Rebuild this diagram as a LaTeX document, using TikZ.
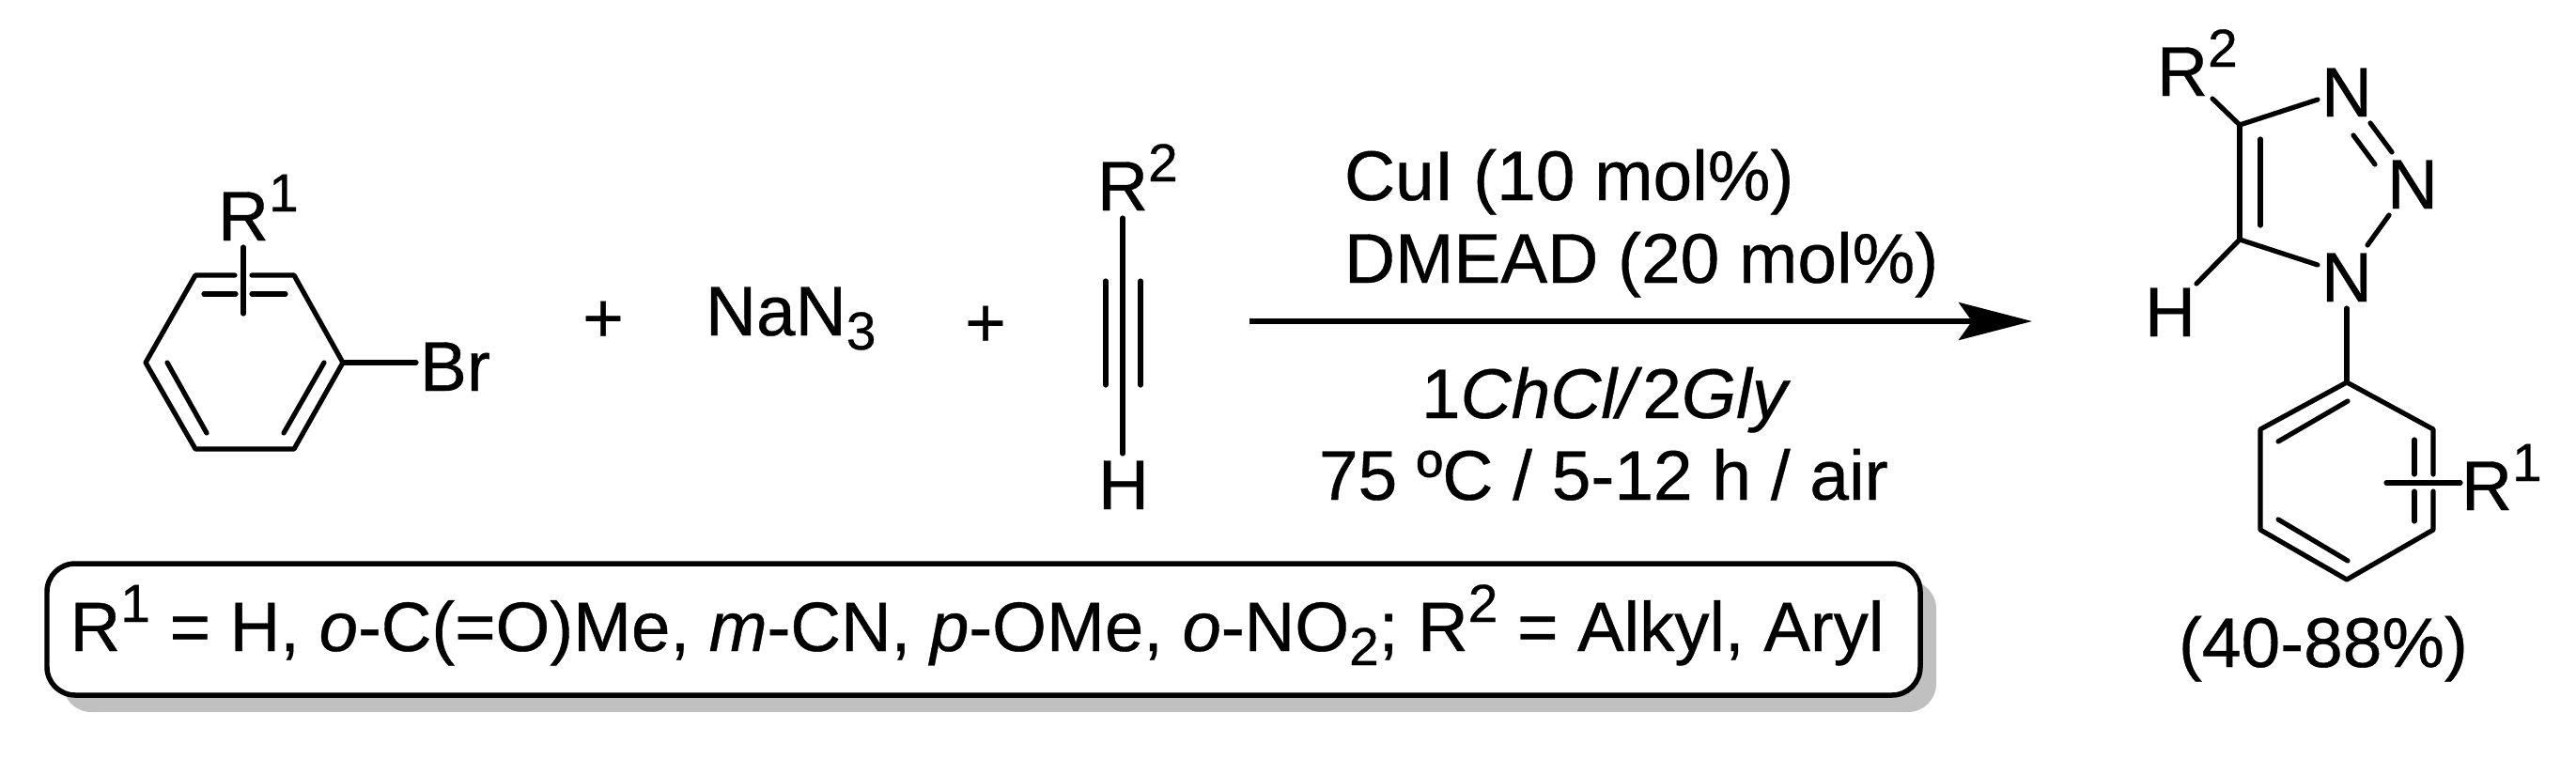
\documentclass[tikz,border=0pt]{standalone}
\usepackage{fontspec}
\usepackage{xcolor}
\setmainfont{Liberation Sans}[RawFeature={embolden=0.5}]
\usetikzlibrary{arrows.meta,shadows}
\definecolor{shadowgray}{HTML}{C0C0C0}
\newcommand{\supnum}[1]{\raisebox{.31cm}{\fontsize{16.2}{16.2}\selectfont #1}}
\newcommand{\subnum}[1]{\raisebox{-.15cm}{\fontsize{16.2}{16.2}\selectfont #1}}
\tikzset{
 bond/.style={line width=.052cm,line cap=round,line join=round},
 chem/.style={anchor=base west,inner sep=0pt,outer sep=0pt},
 plussign/.style={anchor=base,inner sep=0pt,outer sep=0pt},
 subbox/.style={draw,line width=.055cm,rounded corners=.3cm,fill=white,inner sep=0pt,
  minimum width=19.94cm,text height=.93cm,text depth=.47cm,
  font=\fontsize{21.15}{25}\selectfont,
  drop shadow={shadow xshift=.17cm,shadow yshift=-.18cm,fill=shadowgray,opacity=1}}
}
\begin{document}
\begin{tikzpicture}[font=\fontsize{21.3}{25}\selectfont]
 \useasboundingbox (0,0) rectangle (27.42,8.07);

 \coordinate (b1) at (2.08,5.14);
 \coordinate (b1e) at (2.50,5.14);
 \coordinate (b2s) at (2.68,5.14);
 \coordinate (b2) at (3.13,5.14);
 \coordinate (b3) at (3.65,4.21);
 \coordinate (b4) at (3.13,3.29);
 \coordinate (b5) at (2.08,3.29);
 \coordinate (b6) at (1.55,4.21);
 \coordinate (brend) at (4.43,4.21);
 \node[chem] (brom) at (4.47,3.91) {Br};
 \node[chem] (rone) at (2.32,5.51) {R\supnum{1}};
 \draw[bond] (b1e) -- (b1) -- (b6) -- (b5) -- (b4) -- (b3) -- (b2) -- (b2s);
 \draw[bond] (b3) -- (brend);
 \draw[bond] (2.17,4.94) -- (2.51,4.94);
 \draw[bond] (2.68,4.94) -- (3.04,4.94);
 \draw[bond] (1.78,4.21) -- (2.20,3.46);
 \draw[bond] (3.45,4.21) -- (3.02,3.46);
 \draw[bond] (2.59,5.44) -- (2.59,4.73);

 \node[plussign] (plusa) at (6.42,4.43) {+};
 \node[chem] (azide) at (7.51,4.50) {NaN\subnum{3}};
 \node[plussign] (plusb) at (10.49,4.38) {+};

 \node[chem] (rtwo) at (11.68,5.83) {R\supnum{2}};
 \node[chem] (hyd) at (11.69,2.65) {H};
 \draw[bond] (11.95,5.75) -- (11.95,3.24);
 \draw[bond] (11.77,5.08) -- (11.77,3.97);
 \draw[bond] (12.14,5.08) -- (12.14,3.97);

 \coordinate (arrs) at (13.30,4.65);
 \coordinate (arre) at (21.63,4.65);
 \draw[line width=.055cm,-{Stealth[length=.78cm,width=.40cm,inset=.14cm]}] (arrs) -- (arre);
 \node[chem] (cui) at (14.31,5.94) {CuI (10 mol\%)};
 \node[chem] (dmead) at (14.31,5.06) {DMEAD (20 mol\%)};
 \node[chem] (des) at (15.13,3.62) {1\textit{ChCl/}2\textit{Gly}};
 \node[chem] (cond) at (14.04,2.75) {75 ºC / 5-12 h / air};

 \coordinate (c4) at (23.84,6.74);
 \coordinate (c5) at (23.84,5.52);
 \coordinate (rbond) at (23.55,7.02);
 \coordinate (hbond) at (23.38,5.05);
 \coordinate (natop) at (24.67,7.01);
 \coordinate (nabot) at (24.67,5.25);
 \node[chem] (rtwob) at (22.96,7.05) {R\supnum{2}};
 \node[chem] (hydb) at (22.83,4.49) {H};
 \node[chem] (none) at (24.71,6.83) {N};
 \node[chem] (ntwo) at (25.41,5.85) {N};
 \node[chem] (nthree) at (24.71,4.86) {N};
 \draw[bond] (rbond) -- (c4) -- (natop);
 \draw[bond] (c4) -- (c5);
 \draw[bond] (hbond) -- (c5) -- (nabot);
 \draw[bond] (24.06,6.59) -- (24.06,5.67);
 \draw[bond] (25.23,6.76) -- (25.46,6.45);
 \draw[bond] (25.05,6.63) -- (25.28,6.32);
 \draw[bond] (25.43,5.78) -- (25.20,5.46);

 \coordinate (nbond) at (24.98,4.79);
 \coordinate (p1) at (24.98,4.00);
 \coordinate (p2) at (25.90,3.50);
 \coordinate (p2e) at (25.90,3.02);
 \coordinate (p3s) at (25.90,2.84);
 \coordinate (p3) at (25.90,2.43);
 \coordinate (p4) at (24.98,1.90);
 \coordinate (p5) at (24.06,2.43);
 \coordinate (p6) at (24.06,3.50);
 \draw[bond] (nbond) -- (p1);
 \draw[bond] (p2e) -- (p2) -- (p1) -- (p6) -- (p5) -- (p4) -- (p3) -- (p3s);
 \draw[bond] (24.99,3.80) -- (24.25,3.37);
 \draw[bond] (24.25,2.54) -- (24.99,2.10);
 \draw[bond] (25.70,3.39) -- (25.70,3.02);
 \draw[bond] (25.70,2.84) -- (25.70,2.52);
 \draw[bond] (25.40,2.93) -- (26.19,2.93);
 \node[chem] (roneb) at (26.20,2.64) {R\supnum{1}};
 \node[chem] (yield) at (23.19,0.97) {(40-88\%)};

 \node[subbox] (subst) at (10.47,1.37) {R\supnum{1} = H, \textit{o}-C(=O)Me, \textit{m}-CN, \textit{p}-OMe, \textit{o}-NO\subnum{2}; R\supnum{2} = Alkyl, Aryl\kern.14cm};
\end{tikzpicture}
\end{document}
